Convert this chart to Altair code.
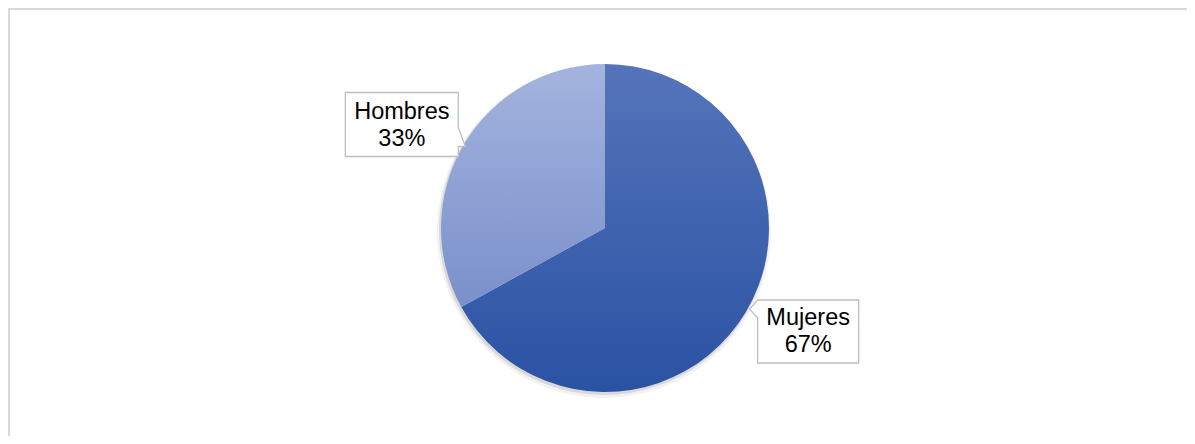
import altair as alt
import pandas as pd

# ---- data ----
categories = ["Mujeres", "Hombres"]
values = [67, 33]
order = [0, 1]

df = pd.DataFrame({"categoria": categories, "valor": values, "orden": order})

# ---- layout / style ----
W, H = 1179, 428
CX, CY, R = 597, 220, 164
LABEL_R = 228
LABEL_SHIFT = 0.063

grad_m = alt.LinearGradient(
    gradient="linear",
    stops=[alt.GradientStop(color="#5574ba", offset=0),
           alt.GradientStop(color="#2a52a3", offset=1)],
    x1=0, x2=0, y1=0, y2=1,
)
grad_h = alt.LinearGradient(
    gradient="linear",
    stops=[alt.GradientStop(color="#a4b4de", offset=0),
           alt.GradientStop(color="#7a90cb", offset=1)],
    x1=0, x2=0, y1=0, y2=1,
)

path_m = ("M -0.505 -0.315 L 0.505 -0.315 L 0.505 0.315 L -0.505 0.315 "
          "L -0.505 -0.135 L -0.585 -0.222 L -0.505 -0.315 Z")
path_h = ("M -0.565 -0.32 L 0.565 -0.32 L 0.565 0.03 L 0.635 0.22 "
          "L 0.565 0.22 L 0.565 0.32 L -0.565 0.32 Z")

base = (
    alt.Chart(df)
    .transform_window(cum="sum(valor)", sort=[alt.SortField("orden")], frame=[None, 0])
    .transform_joinaggregate(total="sum(valor)")
    .transform_calculate(
        t0="(datum.cum - datum.valor) / datum.total * 2 * PI",
        t1="datum.cum / datum.total * 2 * PI",
        tl=f"(datum.cum - datum.valor / 2) / datum.total * 2 * PI - {LABEL_SHIFT}",
        bx=f"{CX} + {LABEL_R} * sin(datum.tl)",
        by=f"{CY} - {LABEL_R} * cos(datum.tl)",
        etiqueta="[datum.categoria, datum.valor + '%']",
    )
)

border_top = base.mark_rule(color="#d9d9d9", strokeWidth=2).encode(
    x=alt.value(0), x2=alt.value(W), y=alt.value(1)
)
border_left = base.mark_rule(color="#d9d9d9", strokeWidth=2).encode(
    x=alt.value(1), y=alt.value(0), y2=alt.value(H)
)

shadow1 = base.mark_arc(radius=R + 3, fill="#000000", opacity=0.05).encode(
    theta=alt.Theta("t0:Q", scale=None), theta2="t1:Q",
    x=alt.value(CX - 1), y=alt.value(CY + 3),
)
shadow2 = base.mark_arc(radius=R + 1, fill="#000000", opacity=0.10).encode(
    theta=alt.Theta("t0:Q", scale=None), theta2="t1:Q",
    x=alt.value(CX - 1), y=alt.value(CY + 2),
)

pie = base.mark_arc(radius=R).encode(
    theta=alt.Theta("t0:Q", scale=None),
    theta2="t1:Q",
    x=alt.value(CX),
    y=alt.value(CY),
    fill=alt.condition(alt.datum.categoria == "Mujeres", alt.value(grad_m), alt.value(grad_h)),
)

boxes = base.mark_point(
    filled=True, fill="white", stroke="#bfbfbf", strokeWidth=1.3,
    opacity=1, fillOpacity=1, size=40000,
).encode(
    x=alt.X("bx:Q", scale=None, axis=None),
    y=alt.Y("by:Q", scale=None, axis=None),
    shape=alt.Shape("categoria:N",
                    scale=alt.Scale(domain=categories, range=[path_m, path_h]),
                    legend=None),
)

labels = base.mark_text(
    radius=LABEL_R, font="Liberation Sans", fontSize=23.5, lineHeight=27,
    align="center", baseline="middle", color="#000000", dy=-13,
).encode(
    theta=alt.Theta("tl:Q", scale=None),
    x=alt.value(CX),
    y=alt.value(CY),
    text="etiqueta:N",
)

chart = (
    alt.layer(border_top, border_left, shadow1, shadow2, pie, boxes, labels)
    .properties(width=W, height=H, padding=0, autosize="none")
    .configure_view(stroke=None)
)

chart.save("out.html", embed_options={"renderer": "svg", "actions": False})
